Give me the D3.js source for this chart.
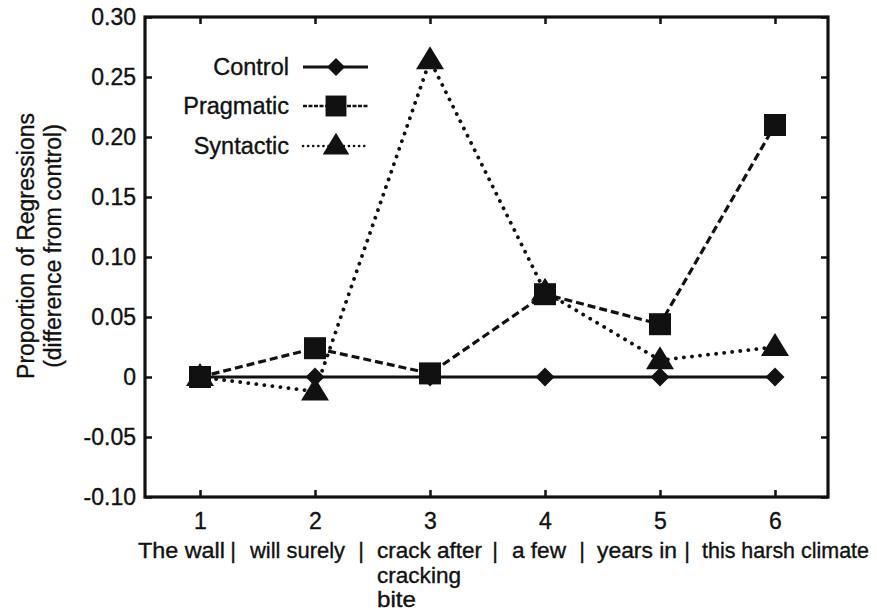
<!DOCTYPE html>
<html><head><meta charset="utf-8">
<script src="https://cdn.jsdelivr.net/npm/d3@7"></script>
<style>body{margin:0;background:#fff}svg{display:block}text{font-family:"Liberation Sans",Arial,sans-serif;fill:#111;stroke:#111;stroke-width:0.35px}</style>
</head><body><svg id="c" width="877" height="613"></svg>
<script>
const positions = [1, 2, 3, 4, 5, 6];
const controlVals = [0, 0, 0, 0, 0, 0];
const pragmaticVals = [0, 0.024, 0.003, 0.069, 0.044, 0.21];
const syntacticVals = [0, -0.012, 0.264, 0.071, 0.014, 0.025];
const yTicks = [-0.10, -0.05, 0, 0.05, 0.10, 0.15, 0.20, 0.25, 0.30];
const yTickLabels = ["-0.10", "-0.05", "0", "0.05", "0.10", "0.15", "0.20", "0.25", "0.30"];
const regionWords = ["The wall", "will surely", "crack after", "a few", "years in", "this harsh climate"];
const regionX = [138, 250, 377, 512, 597, 702];
const regionW = [87, 95, 105, 54, 80, 167];
const separatorX = [233, 361, 495, 582, 687];
const extraLines = ["cracking", "bite"];
const extraW = [84, 39];
const seriesNames = ["Control", "Pragmatic", "Syntactic"];

const svg = d3.select("#c");
const L = 145, R = 828, T = 17, B = 497;
const x = d3.scaleLinear().domain([1, 6]).range([200, 775]);
const y = d3.scaleLinear().domain([-0.10, 0.30]).range([B, T]);

const styles = {
  Control: {dash: null, width: 2.8, cap: "butt"},
  Pragmatic: {dash: "8,4", width: 3.2, cap: "butt"},
  Syntactic: {dash: "0.1,8", width: 3.8, cap: "round"}
};
function marker(name, g, cx, cy, k) {
  k = k || 1;
  if (name === "Control") {
    const h = 9.5*k;
    g.append("path").attr("d", `M${cx},${cy-h}L${cx+h},${cy}L${cx},${cy+h}L${cx-h},${cy}Z`).attr("fill", "#111");
  } else if (name === "Pragmatic") {
    const h = 11*k;
    g.append("rect").attr("x", cx-h).attr("y", cy-h).attr("width", 2*h).attr("height", 2*h).attr("fill", "#111");
  } else {
    g.append("path").attr("d", `M${cx},${cy-14*k}L${cx+14*k},${cy+9*k}L${cx-14*k},${cy+9*k}Z`).attr("fill", "#111");
  }
}

// frame
svg.append("rect").attr("x", L).attr("y", T).attr("width", R-L).attr("height", B-T)
  .attr("fill", "none").attr("stroke", "#111").attr("stroke-width", 3.2);

// ticks via axes (inward)
const axL = d3.axisLeft(y).tickValues(yTicks).tickSize(-7).tickPadding(9).tickFormat((d,i)=>yTickLabels[i]);
const gL = svg.append("g").attr("transform", `translate(${L},0)`).call(axL);
const axR = d3.axisRight(y).tickValues(yTicks).tickSize(-7).tickFormat("");
const gR = svg.append("g").attr("transform", `translate(${R},0)`).call(axR);
const axB = d3.axisBottom(x).tickValues(positions).tickSize(-7).tickPadding(16).tickFormat(d3.format("d"));
const gB = svg.append("g").attr("transform", `translate(0,${B})`).call(axB);
const axT = d3.axisTop(x).tickValues(positions).tickSize(-7).tickFormat("");
const gT = svg.append("g").attr("transform", `translate(0,${T})`).call(axT);
[gL, gR, gB, gT].forEach(g => {
  g.select(".domain").remove();
  g.selectAll(".tick line").attr("stroke", "#111").attr("stroke-width", 2.5);
  g.selectAll("text").attr("font-size", 23).attr("fill", "#111").style("font-family", "Liberation Sans, Arial, sans-serif");
});

// series
const data = {Control: controlVals, Pragmatic: pragmaticVals, Syntactic: syntacticVals};
const line = d3.line().x((d,i)=>x(positions[i])).y(d=>y(d));
seriesNames.slice().reverse().forEach(name => {
  const s = styles[name];
  svg.append("path").datum(data[name]).attr("d", line).attr("fill", "none")
    .attr("stroke", "#111").attr("stroke-width", s.width).attr("stroke-dasharray", s.dash)
    .attr("stroke-linecap", s.cap);
});
seriesNames.forEach(name => {
  const g = svg.append("g");
  data[name].forEach((v,i) => marker(name, g, x(positions[i]), y(v)));
});

// legend
const legY = [67, 106, 146];
seriesNames.forEach((name, i) => {
  const s = styles[name];
  svg.append("text").attr("x", 289).attr("y", legY[i]+8).attr("text-anchor", "end").attr("font-size", 23.5).text(name);
  svg.append("line").attr("x1", 303).attr("x2", 368).attr("y1", legY[i]).attr("y2", legY[i])
    .attr("stroke", "#111").attr("stroke-width", name==="Control" ? 2.8 : 2.6)
    .attr("stroke-dasharray", name==="Pragmatic" ? "4,1.5" : name==="Syntactic" ? "0.1,5" : null)
    .attr("stroke-linecap", s.cap);
  marker(name, svg.append("g"), 336, legY[i], 0.95);
});

// category labels
regionWords.forEach((w, i) => {
  svg.append("text").attr("x", regionX[i]).attr("y", 558).attr("font-size", 21.5)
    .attr("textLength", regionW[i]).attr("lengthAdjust", "spacingAndGlyphs").text(w);
});
separatorX.forEach(sx => {
  svg.append("text").attr("x", sx).attr("y", 558).attr("font-size", 22).attr("text-anchor", "middle").text("|");
});
extraLines.forEach((w, i) => {
  svg.append("text").attr("x", regionX[2]).attr("y", 583 + i*24).attr("font-size", 21.5)
    .attr("textLength", extraW[i]).attr("lengthAdjust", "spacingAndGlyphs").text(w);
});

// y title
const yt = svg.append("text").attr("transform", "translate(34,246) rotate(-90)").attr("text-anchor", "middle").attr("font-size", 23);
yt.append("tspan").attr("x", 0).attr("dy", 0).text("Proportion of Regressions");
yt.append("tspan").attr("x", 0).attr("dy", 27).text("(difference from control)");
</script></body></html>
